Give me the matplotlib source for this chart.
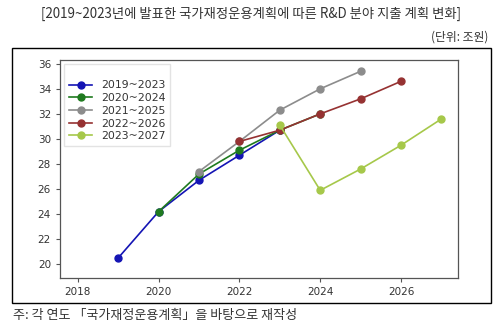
import matplotlib.pyplot as plt
from matplotlib.patches import Rectangle

plt.rcParams['font.family'] = ['DejaVu Sans']

# R&D spending plans (trillion won) from each year's fiscal management plan
years_19 = [2019, 2020, 2021, 2022, 2023]
plan_19 = [20.5, 24.2, 26.7, 28.7, 30.7]
years_20 = [2020, 2021, 2022, 2023, 2024]
plan_20 = [24.2, 27.2, 29.1, 30.7, 32.0]
years_21 = [2021, 2022, 2023, 2024, 2025]
plan_21 = [27.4, 29.8, 32.3, 34.0, 35.4]
years_22 = [2022, 2023, 2024, 2025, 2026]
plan_22 = [29.8, 30.7, 32.0, 33.2, 34.6]
years_23 = [2023, 2024, 2025, 2026, 2027]
plan_23 = [31.1, 25.9, 27.6, 29.5, 31.6]

labels = ['2019~2023', '2020~2024', '2021~2025', '2022~2026', '2023~2027']
colors = ['#1414b4', '#1f7a1f', '#8c8c8c', '#963232', '#a6c84a']

fig = plt.figure(figsize=(5.02, 3.27), dpi=100)
kr = ['Noto Sans CJK KR', 'DejaVu Sans']

fig.text(0.5, 0.958, '[2019~2023년에 발표한 국가재정운용계획에 따른 R&D 분야 지출 계획 변화]',
         ha='center', va='center', fontsize=9.6, family=kr, color='#333333',
         fontweight='light')
fig.text(0.972, 0.888, '(단위: 조원)', ha='right', va='center', fontsize=8.5,
         family=kr, color='#333333', fontweight='light')
fig.text(0.026, 0.036, '주: 각 연도 「국가재정운용계획」을 바탕으로 재작성', ha='left',
         va='center', fontsize=9.4, family=kr, color='#333333', fontweight='light')

# outer frame around the plot
fig.patches.append(Rectangle((0.024, 0.073), 0.954, 0.78, transform=fig.transFigure,
                             fill=False, edgecolor='black', linewidth=1.0))

ax = fig.add_axes([0.1195, 0.1498, 0.7929, 0.6667])
series = [(years_19, plan_19), (years_20, plan_20), (years_21, plan_21),
          (years_22, plan_22), (years_23, plan_23)]
for (x, y), lab, c in zip(series, labels, colors):
    ax.plot(x, y, marker='o', markersize=5, linewidth=1.2, color=c, label=lab)

ax.set_xlim(2017.56, 2027.41)
ax.set_ylim(18.9, 36.3)
ax.set_xticks([2018, 2020, 2022, 2024, 2026])
ax.set_yticks([20, 22, 24, 26, 28, 30, 32, 34, 36])
ax.tick_params(labelsize=7.5, length=3, color='#555555', labelcolor='#333333')
for s in ax.spines.values():
    s.set_color('#555555')
    s.set_linewidth(0.9)

leg = ax.legend(loc='upper left', fontsize=7.8, title=' ', title_fontsize=6,
                handlelength=2.2, borderaxespad=0.4, labelspacing=0.25,
                frameon=True, fancybox=False)
leg.get_frame().set_edgecolor('#dddddd')
for t in leg.get_texts():
    t.set_color('#333333')

fig.savefig('out.png', dpi=100)
